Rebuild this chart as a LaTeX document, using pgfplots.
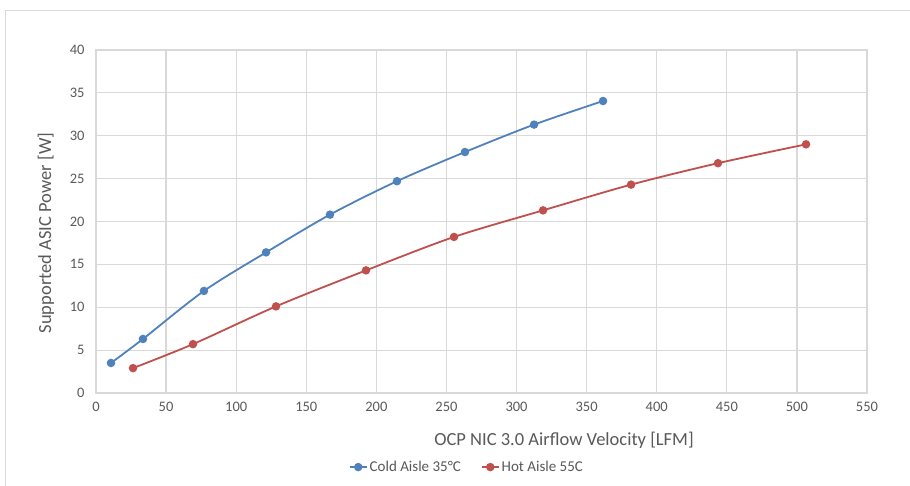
\documentclass[border=0pt]{standalone}
\usepackage{fontspec}
\setmainfont{Carlito}
\usepackage{pgfplots}
\pgfplotsset{compat=1.18}
\definecolor{cblue}{HTML}{4F81BD}
\definecolor{cred}{HTML}{C0504D}
\definecolor{gridc}{HTML}{D9D9D9}
\definecolor{txt}{HTML}{595959}
\begin{document}
\begin{tikzpicture}[x=1pt,y=1pt]
\useasboundingbox (0,0) rectangle (910,485);
\draw[gridc, line width=1pt] (5,-5) -- (5,474) -- (915,474);
\begin{axis}[at={(96pt,92pt)}, anchor=south west, scale only axis,
  width=771pt, height=343pt,
  xmin=0, xmax=550, ymin=0, ymax=40,
  xtick distance=50, ytick distance=5,
  grid=major, major grid style={gridc, line width=1.2pt},
  axis line style={gridc, line width=1.2pt},
  tick style={draw=none},
  /pgf/number format/assume math mode=true,
  ticklabel style={font=\fontsize{14.5}{16}\selectfont, text=txt},
  yticklabel style={xshift=-8pt},
  xticklabel style={yshift=-6pt},
  legend columns=2,
  legend style={draw=none, at={(0.481,-0.216)}, anchor=center,
    font=\fontsize{15}{17}\selectfont, text=txt,
    /tikz/every even column/.append style={column sep=18pt}},
  ]
\addplot[cblue, line width=1.8pt, smooth, mark=*, mark size=3.3pt, mark options={fill=cblue, draw=cblue}] coordinates {
(10.7,3.5) (33.5,6.3) (77,11.9) (121.3,16.4) (166.9,20.8) (214.7,24.7) (263.2,28.1) (312.5,31.3) (361.7,34.05)};
\addlegendentry{Cold Aisle 35°C}
\addplot[cred, line width=1.8pt, smooth, mark=*, mark size=3.3pt, mark options={fill=cred, draw=cred}] coordinates {
(26.4,2.9) (69.2,5.7) (128.4,10.1) (192.6,14.3) (255.4,18.2) (318.9,21.3) (381.7,24.3) (443.7,26.8) (506.5,29.0)};
\addlegendentry{Hot Aisle 55C}
\end{axis}
\node[font=\fontsize{18.5}{20}\selectfont, text=txt] at (564,45) {OCP NIC 3.0 Airflow Velocity [LFM]};
\node[font=\fontsize{18.5}{20}\selectfont, text=txt, rotate=90] at (46,252) {Supported ASIC Power [W]};
\end{tikzpicture}
\end{document}
